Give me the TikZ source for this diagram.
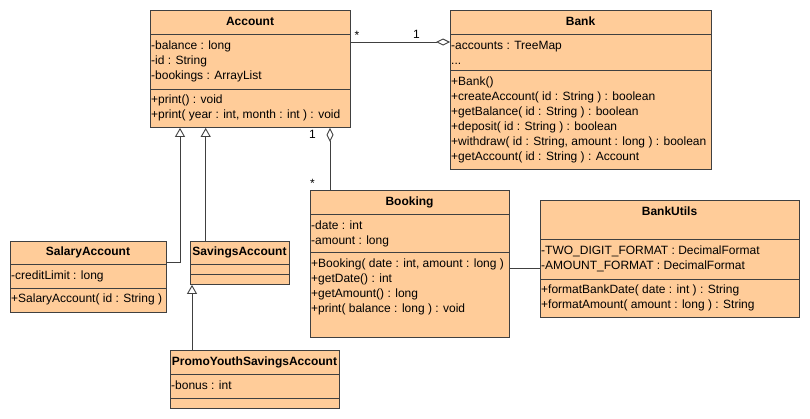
\documentclass[tikz,border=0pt]{standalone}
\usepackage{fontspec}
\setmainfont{Liberation Sans}
\usetikzlibrary{arrows.meta}
\definecolor{classfill}{RGB}{255,204,153}
\definecolor{classline}{RGB}{64,64,64}
\newcommand{\umlfont}{\fontsize{12}{15}\selectfont}

\begin{document}
\begin{tikzpicture}[x=1pt,y=-1pt,
  cls/.style={draw=classline,fill=classfill,line width=0.9pt,anchor=north west,inner sep=0pt},
  ttl/.style={font=\umlfont\bfseries,anchor=base,inner sep=0pt},
  mem/.style={font=\umlfont,anchor=north west,align=left,inner sep=0pt},
  sep/.style={draw=classline,line width=0.9pt},
  gen/.style={draw=classline,line width=0.9pt,-{Triangle[open,length=9pt,width=10pt]}},
  agg/.style={draw=classline,line width=0.9pt,{Diamond[open,length=14pt,width=7pt]}-},
  assoc/.style={draw=classline,line width=0.9pt},
  mult/.style={font=\umlfont,anchor=base,inner sep=0pt}
]
\path[use as bounding box,fill=white] (0,0) rectangle (810,418);

% Account
\node[cls,minimum width=200pt,minimum height=117pt] (account) at (150,10) {};
\node[ttl] (account-name) at (250,25) {Account};
\draw[sep] (150,34) -- (350,34) (150,89) -- (350,89);
\node[mem] (account-attr) at (151,38.5) {\strut-balance : long\\-id : String\\-bookings : ArrayList};
\node[mem] (account-ops) at (151,92.5) {\strut+print() : void\\+print( year : int, month : int ) : void};

% Bank
\node[cls,minimum width=261pt,minimum height=159pt] (bank) at (450,10) {};
\node[ttl] (bank-name) at (580.5,25) {Bank};
\draw[sep] (450,34) -- (711,34) (450,70.7) -- (711,70.7);
\node[mem] (bank-attr) at (451,38.5) {\strut-accounts : TreeMap\\...};
\node[mem] (bank-ops) at (451,74.5) {\strut+Bank()\\+createAccount( id : String ) : boolean\\+getBalance( id : String ) : boolean\\+deposit( id : String ) : boolean\\+withdraw( id : String, amount : long ) : boolean\\+getAccount( id : String ) : Account};

% Booking
\node[cls,minimum width=199pt,minimum height=147pt] (booking) at (310,190) {};
\node[ttl] (booking-name) at (409.5,205) {Booking};
\draw[sep] (310,214) -- (509,214) (310,252.7) -- (509,252.7);
\node[mem] (booking-attr) at (311,218.5) {\strut-date : int\\-amount : long};
\node[mem] (booking-ops) at (311,256.5) {\strut+Booking( date : int, amount : long )\\+getDate() : int\\+getAmount() : long\\+print( balance : long ) : void};

% BankUtils
\node[cls,minimum width=259pt,minimum height=117pt] (bankutils) at (540,200) {};
\node[ttl] (bankutils-name) at (669.5,215) {BankUtils};
\draw[sep] (540,239) -- (799,239) (540,279) -- (799,279);
\node[mem] (bankutils-attr) at (541,243.5) {\strut-TWO\_DIGIT\_FORMAT : DecimalFormat\\-AMOUNT\_FORMAT : DecimalFormat};
\node[mem] (bankutils-ops) at (541,283) {\strut+formatBankDate( date : int ) : String\\+formatAmount( amount : long ) : String};

% SalaryAccount
\node[cls,minimum width=156pt,minimum height=71.3pt] (salary) at (10,240.7) {};
\node[ttl] (salary-name) at (88,255) {SalaryAccount};
\draw[sep] (10,264) -- (166,264) (10,288) -- (166,288);
\node[mem] (salary-attr) at (11,268.5) {\strut-creditLimit : long};
\node[mem] (salary-ops) at (11,292) {\strut+SalaryAccount( id : String )};

% SavingsAccount
\node[cls,minimum width=99pt,minimum height=43.3pt] (savings) at (190,240.7) {};
\node[ttl] (savings-name) at (239.5,255) {SavingsAccount};
\draw[sep] (190,264) -- (289,264) (190,274) -- (289,274);

% PromoYouthSavingsAccount
\node[cls,minimum width=169pt,minimum height=58pt] (promo) at (170,350) {};
\node[ttl] (promo-name) at (254.5,365) {PromoYouthSavingsAccount};
\draw[sep] (170,374) -- (339,374) (170,398) -- (339,398);
\node[mem] (promo-attr) at (171,378.5) {\strut-bonus : int};

% associations
\draw[agg] (bank.west |- 0,42) -- (account.east |- 0,42);
\node[mult] (mult-acc) at (357,39) {*};
\node[mult] (mult-bank) at (416.5,38) {1};
\draw[agg] (account.south -| 330,0) -- (booking.north -| 330,0);
\node[mult] (mult-owner) at (312.5,138) {1};
\node[mult] (mult-bookings) at (312.5,187) {*};
\draw[assoc] (booking.east |- 0,268) -- (bankutils.west |- 0,268);

% generalizations
\draw[gen] (salary.east |- 0,262) -| (account.south -| 180,0);
\draw[gen] (savings.north -| 205.7,0) -- (account.south -| 205.7,0);
\draw[gen] (promo.north -| 192,0) -- (savings.south -| 192,0);
\end{tikzpicture}
\end{document}
